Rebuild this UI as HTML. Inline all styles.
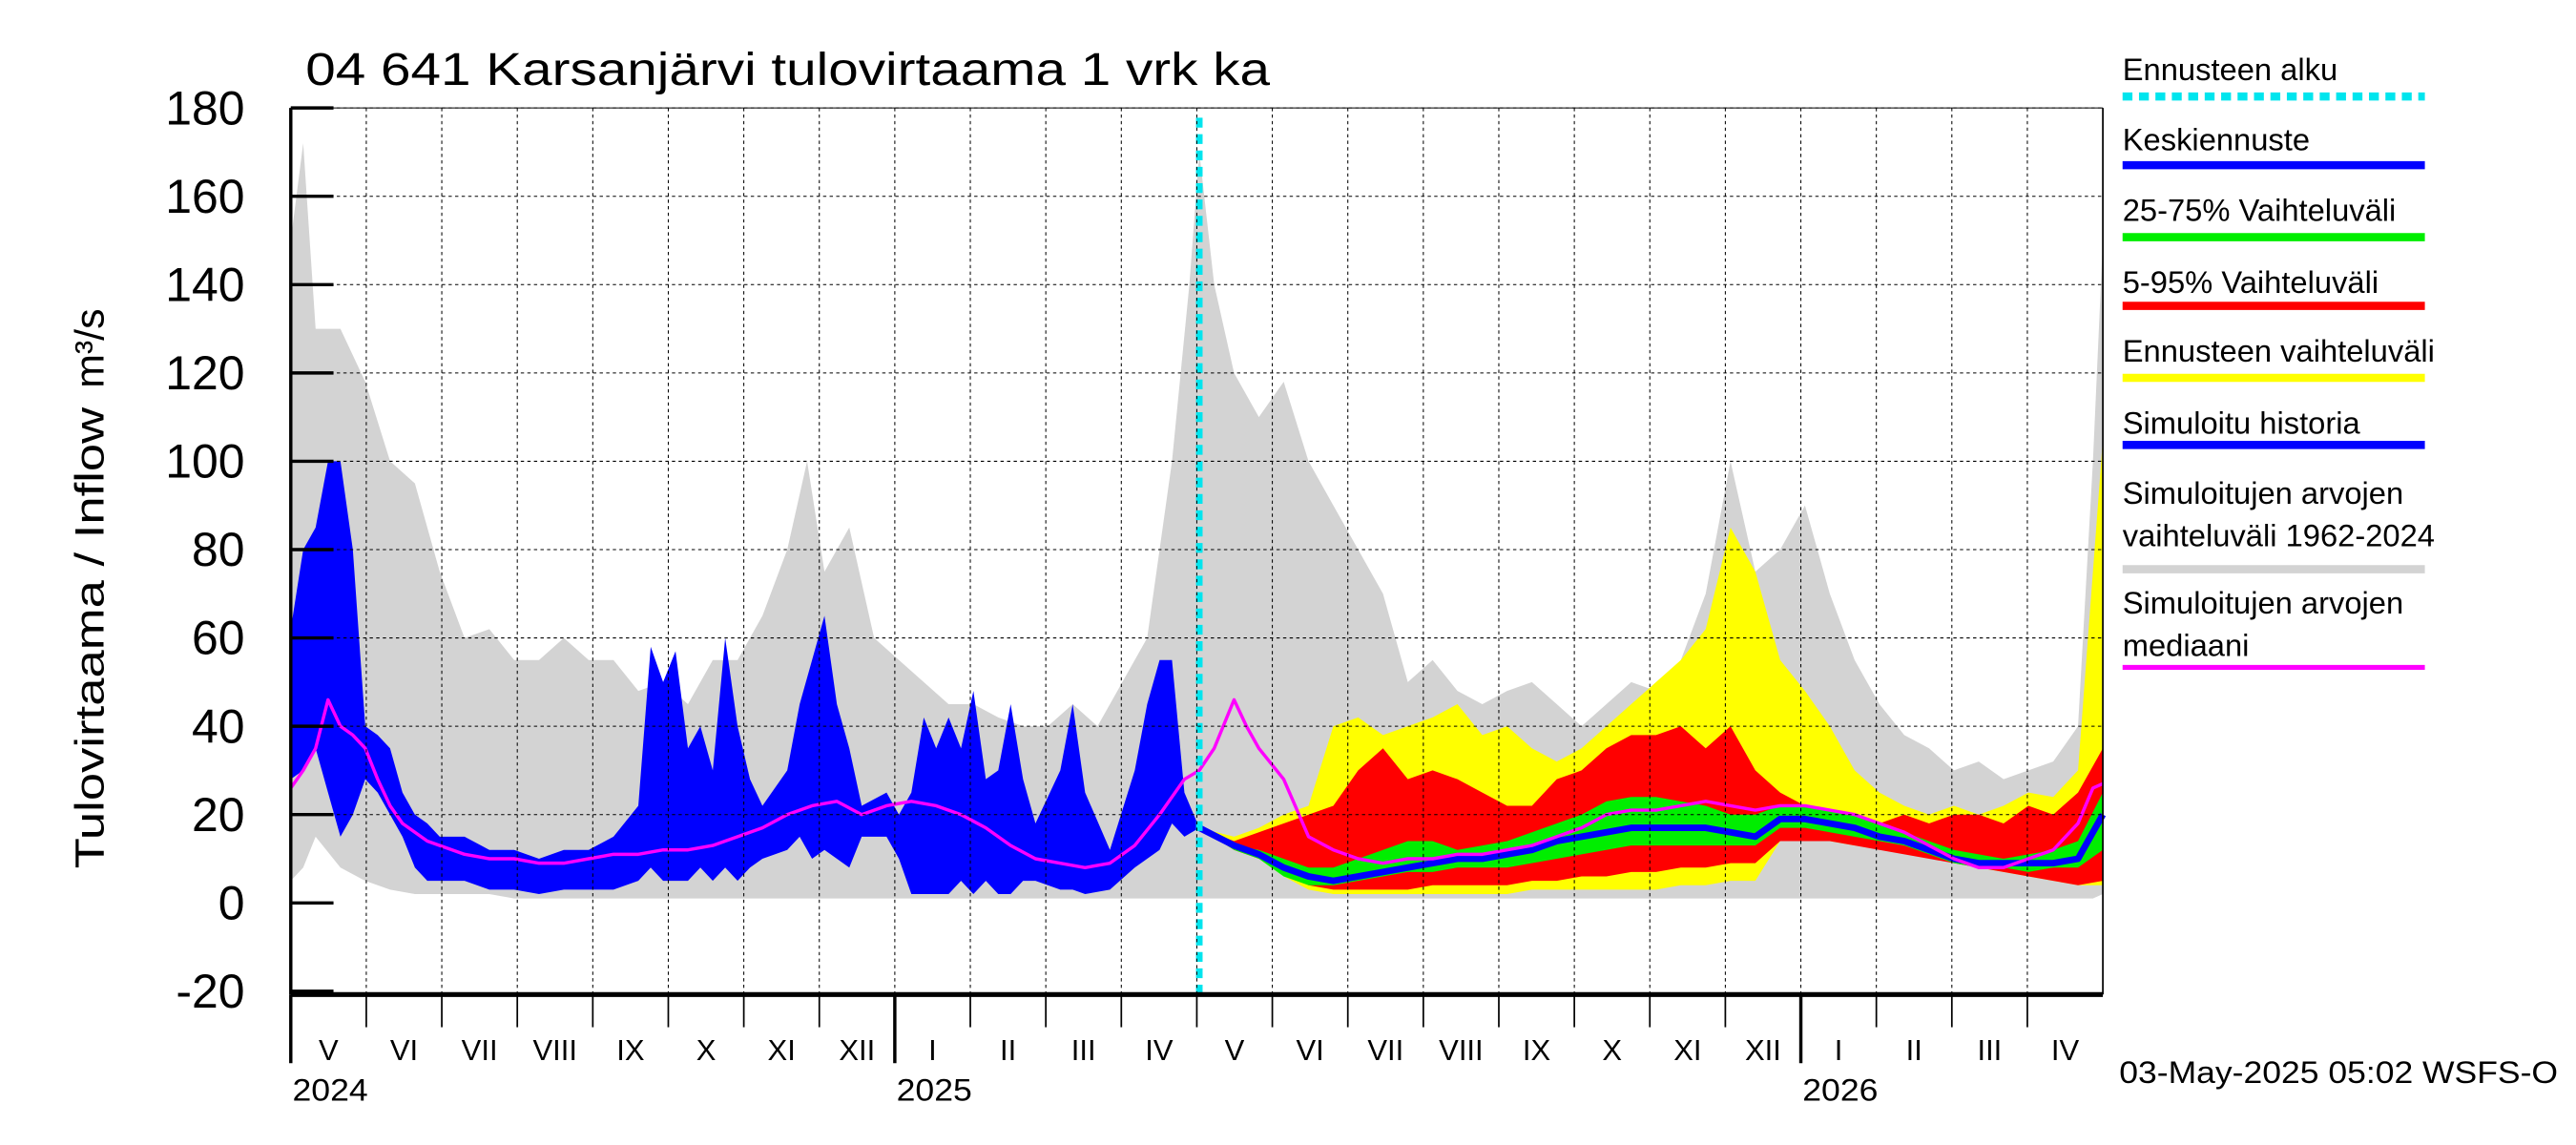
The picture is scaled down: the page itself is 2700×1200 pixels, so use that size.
<!DOCTYPE html>
<html><head><meta charset="utf-8"><style>
html,body{margin:0;padding:0;background:#fff;}
svg{display:block;font-family:"Liberation Sans",sans-serif;}
</style></head><body>
<svg id="chart" xmlns="http://www.w3.org/2000/svg" width="2700" height="1200" viewBox="0 0 1568 700" preserveAspectRatio="none">
<g id="marks"></g>
<g id="axes"></g>
<text x="186" y="52" font-size="28" textLength="587" lengthAdjust="spacingAndGlyphs">04 641 Karsanjärvi tulovirtaama 1 vrk ka</text>
<text transform="translate(63,390) rotate(-90)" text-anchor="middle" font-size="25" textLength="282" lengthAdjust="spacingAndGlyphs">Tulovirtaama / Inflow</text>
<text transform="translate(63,213) rotate(-90)" text-anchor="middle" font-size="25">m³/s</text>
<text x="1290" y="662" font-size="19" textLength="267" lengthAdjust="spacingAndGlyphs">03-May-2025 05:02 WSFS-O</text>
<g id="legend"></g>
</svg>
<script>
const NS='http://www.w3.org/2000/svg';
// ---- data ----
const yTicks=[-20,0,20,40,60,80,100,120,140,160,180];
const monthLabels=['V','VI','VII','VIII','IX','X','XI','XII','I','II','III','IV','V','VI','VII','VIII','IX','X','XI','XII','I','II','III','IV'];
const yearLabels=['2024','2025','2026'];
const yearMonthIdx=[0,8,20];
const forecastStartDay=366;
const greyDays=[0,5,10,20,30,40,50,60,70,80,90,100,110,120,130,140,150,160,170,180,190,200,208,215,225,235,245,255,265,275,285,295,305,315,325,335,345,355,362,366,372,380,390,400,410,420,430,440,450,460,470,480,490,500,510,520,530,540,550,560,570,580,590,600,610,620,630,640,650,660,670,680,690,700,710,720,726,730];
const greyMax=[150,172,130,130,118,100,95,75,60,62,55,55,60,55,55,48,50,45,55,55,65,80,100,75,85,60,55,50,45,45,42,40,40,45,40,50,60,100,140,170,140,120,110,118,100,90,80,70,50,55,48,45,48,50,45,40,45,50,48,55,70,100,75,80,90,70,55,45,38,35,30,32,28,30,32,40,100,150];
const greyMin=[5,8,15,8,5,3,2,2,2,2,1,1,1,1,1,1,1,1,1,1,1,1,1,1,1,1,1,1,1,1,1,1,1,1,1,1,1,1,1,1,1,1,1,1,1,1,1,1,1,1,1,1,1,1,1,1,1,1,1,1,1,1,1,1,1,1,1,1,1,1,1,1,1,1,1,1,1,2];
const histDays=[0,5,10,15,20,25,30,35,40,45,50,55,60,70,80,90,100,110,120,130,140,145,150,155,160,165,170,175,180,185,190,200,205,210,215,220,225,230,240,245,250,255,260,265,270,275,280,285,290,295,300,310,315,320,330,340,345,350,355,360,366];
const histHi=[62,80,85,100,100,80,40,38,35,25,20,18,15,15,12,12,10,12,12,15,22,58,50,57,35,40,30,60,40,28,22,30,45,55,65,45,35,22,25,20,25,42,35,42,35,48,28,30,45,28,18,30,45,25,12,30,45,55,55,25,17];
const histLo=[28,30,35,25,15,20,28,25,20,15,8,5,5,5,3,3,2,3,3,3,5,8,5,5,5,8,5,8,5,8,10,12,15,10,12,10,8,15,15,10,2,2,2,2,5,2,5,2,2,5,5,3,3,2,3,8,10,12,18,15,17];
const medDays=[0,5,10,15,20,25,30,35,40,45,50,55,60,70,80,90,100,110,120,130,140,150,160,170,180,190,200,210,220,230,240,250,260,270,280,290,300,310,320,330,340,350,360,366,372,380,385,390,400,410,420,430,440,450,460,470,480,490,500,510,520,530,540,550,560,570,580,590,600,610,620,630,640,650,660,670,680,690,700,710,720,726,730];
const median=[26,30,35,46,40,38,35,28,22,18,16,14,13,11,10,10,9,9,10,11,11,12,12,13,15,17,20,22,23,20,22,23,22,20,17,13,10,9,8,9,13,20,28,30,35,46,40,35,28,15,12,10,9,10,10,11,11,12,13,15,17,20,21,21,22,23,22,21,22,22,21,20,18,16,13,10,8,8,10,12,18,26,27];
const fcDays=[366,380,390,400,410,420,430,440,450,460,470,480,490,500,510,520,530,540,550,560,570,580,590,600,610,620,630,640,650,660,670,680,690,700,710,720,730];
const yellowHi=[17,15,17,20,22,40,42,38,40,42,45,38,40,35,32,35,40,45,50,55,62,85,75,55,48,40,30,25,22,20,22,20,22,25,24,30,105];
const yellowLo=[17,12,10,6,3,2,2,2,2,2,2,2,2,3,3,3,3,3,3,4,4,5,5,14,14,14,13,13,12,11,10,8,7,6,5,4,4];
const redHi=[17,14,16,18,20,22,30,35,28,30,28,25,22,22,28,30,35,38,38,40,35,40,30,25,22,20,18,18,20,18,20,20,18,22,20,25,35];
const redLo=[17,12,10,7,4,3,3,3,3,4,4,4,4,5,5,6,6,7,7,8,8,9,9,14,14,14,13,12,11,10,9,8,7,6,5,4,5];
const greenHi=[17,13,12,10,8,8,10,12,14,14,12,13,14,16,18,20,23,24,24,23,22,20,20,22,22,21,20,18,16,14,12,11,10,11,12,14,25];
const greenLo=[17,12,10,6,4,4,5,6,7,7,8,8,8,9,10,11,12,13,13,13,13,13,13,17,17,16,15,14,13,11,9,8,8,7,8,8,12];
const meanFc=[17,13,11,8,6,5,6,7,8,9,10,10,11,12,14,15,16,17,17,17,17,16,15,19,19,18,17,15,14,12,10,9,9,9,9,10,20];
// ---- scales ----
const X0=177,X1=1280,Y0=552,PER=2.7,DAYS=730;
const xs=d=>X0+d*(X1-X0)/DAYS;
const ys=v=>Y0-v*PER;
const marks=document.getElementById('marks'),axes=document.getElementById('axes'),legend=document.getElementById('legend');
function mk(tag,attrs,parent){const e=document.createElementNS(NS,tag);for(const k in attrs)e.setAttribute(k,attrs[k]);parent.appendChild(e);return e;}
function band(days,hi,lo,fill,name){
  let p=days.map((d,i)=>xs(d)+','+ys(hi[i]));
  for(let i=days.length-1;i>=0;i--)p.push(xs(days[i])+','+ys(lo[i]));
  const e=mk('polygon',{points:p.join(' '),fill:fill},marks);
  
  
}
function line(days,vals,stroke,w,name){
  const e=mk('polyline',{points:days.map((d,i)=>xs(d)+','+ys(vals[i])).join(' '),fill:'none',stroke:stroke,'stroke-width':w,'stroke-linejoin':'round'},marks);
  
  
}
// grid
yTicks.forEach(v=>{
  if(v>-20&&v!==0){const g=mk('line',{x1:X0,x2:X1,y1:ys(v),y2:ys(v),stroke:'#000','stroke-width':0.6,'stroke-dasharray':'2,2'},axes);
  
  }
  const t=mk('line',{x1:X0,x2:X0+26,y1:ys(v),y2:ys(v),stroke:'#000','stroke-width':2},axes);
  
  
  const lb=mk('text',{x:149,y:ys(v)+10,'text-anchor':'end','font-size':29},axes);lb.textContent=v;
  
  
});
const mw=(X1-X0)/24;
monthLabels.forEach((m,i)=>{
  const x=X0+i*mw;
  const isYear=yearMonthIdx.includes(i);
  if(i>0){const g=mk('line',{x1:x,x2:x,y1:ys(180),y2:608,stroke:'#000','stroke-width':0.6,'stroke-dasharray':'2,2'},axes);
  
  }
  const t=mk('line',{x1:x,x2:x,y1:608,y2:isYear?650:628,stroke:'#000','stroke-width':isYear?2:1},axes);
  
  
  const lb=mk('text',{x:x+mw/2,y:648,'text-anchor':'middle','font-size':18},axes);lb.textContent=m;
  
  
});
yearLabels.forEach((y,i)=>{
  const lb=mk('text',{x:X0+yearMonthIdx[i]*mw+1,y:673,'font-size':19,'textLength':46,'lengthAdjust':'spacingAndGlyphs'},axes);lb.textContent=y;
  
  
});
// frame
[[X0,ys(180),X0,608,2],[X0,608,X1,608,3],[X1,ys(180),X1,608,1],[X0,ys(180),X1,ys(180),0.6]].forEach(a=>{
  const e=mk('line',{x1:a[0],y1:a[1],x2:a[2],y2:a[3],stroke:'#000','stroke-width':a[4]},axes);
  
  
});
// series
band(greyDays,greyMax,greyMin,'#d3d3d3','sim-range-band');
band(fcDays,yellowHi,yellowLo,'#ffff00','forecast-range-band');
band(fcDays,redHi,redLo,'#ff0000','band-5-95');
band(fcDays,greenHi,greenLo,'#00ee00','band-25-75');
band(histDays,histHi,histLo,'#0000ff','sim-history-band');
line(fcDays,meanFc,'#0000ff',4,'mean-forecast-line');
line(medDays,median,'#ff00ff',2,'median-line');
const fs=mk('line',{x1:xs(forecastStartDay),x2:xs(forecastStartDay),y1:72,y2:608,stroke:'#00e5ee','stroke-width':4,'stroke-dasharray':'6,4'},marks);


// legend
const leg=[['Ennusteen alku','#00e5ee',true],['Keskiennuste','#0000ff'],['25-75% Vaihteluväli','#00ee00'],['5-95% Vaihteluväli','#ff0000'],['Ennusteen vaihteluväli','#ffff00'],['Simuloitu historia','#0000ff'],['Simuloitujen arvojen|vaihteluväli 1962-2024','#d3d3d3'],['Simuloitujen arvojen|mediaani','#ff00ff']];
const legY=[49,92,135,179,221,265,308,375];
const legLine=[59,101,145,187,231,272,348,408];
leg.forEach((l,i)=>{
  l[0].split('|').forEach((s,j)=>{const t=mk('text',{x:1292,y:legY[i]+j*26,'font-size':19},legend);t.textContent=s;
  
  });
  const a={x1:1292,x2:1476,y1:legLine[i],y2:legLine[i],stroke:l[1],'stroke-width':i===7?3:5};
  if(l[2])a['stroke-dasharray']='6,4';
  const e=mk('line',a,legend);
  
  
});
</script>
</body></html>
